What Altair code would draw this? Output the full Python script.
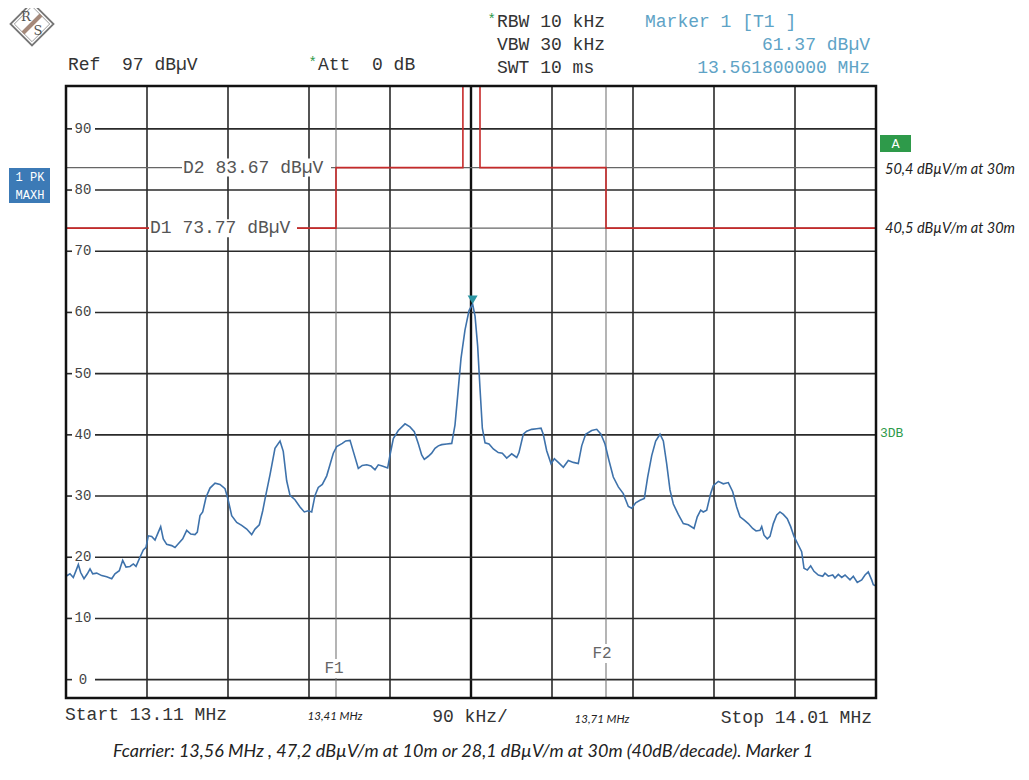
import altair as alt
import pandas as pd

# ---------------- data ----------------
freq_mhz = [
    13.1100, 13.1144, 13.1181, 13.1219, 13.1237, 13.1263, 13.1300, 13.1337, 13.1367, 13.1397,
    13.1441, 13.1497, 13.1552, 13.1608, 13.1644, 13.1692, 13.1730, 13.1767, 13.1811, 13.1848,
    13.1878, 13.1922, 13.1959, 13.1989, 13.2014, 13.2052, 13.2089, 13.2126, 13.2152, 13.2181,
    13.2219, 13.2274, 13.2311, 13.2348, 13.2397, 13.2441, 13.2486, 13.2533, 13.2559, 13.2589,
    13.2619, 13.2656, 13.2700, 13.2756, 13.2811, 13.2867, 13.2903, 13.2941, 13.2997, 13.3052,
    13.3108, 13.3163, 13.3200, 13.3248, 13.3286, 13.3311, 13.3367, 13.3422, 13.3478, 13.3514,
    13.3552, 13.3589, 13.3644, 13.3700, 13.3748, 13.3792, 13.3830, 13.3867, 13.3903, 13.3948,
    13.3997, 13.4033, 13.4070, 13.4108, 13.4170, 13.4208, 13.4256, 13.4292, 13.4348, 13.4392,
    13.4441, 13.4489, 13.4533, 13.4570, 13.4614, 13.4674, 13.4700, 13.4737, 13.4792, 13.4867,
    13.4922, 13.4970, 13.5014, 13.5052, 13.5081, 13.5126, 13.5163, 13.5200, 13.5237, 13.5274,
    13.5330, 13.5386, 13.5422, 13.5452, 13.5489, 13.5533, 13.5578, 13.5618, 13.5645, 13.5674,
    13.5700, 13.5726, 13.5756, 13.5800, 13.5848, 13.5903, 13.5948, 13.5997, 13.6052, 13.6108,
    13.6133, 13.6181, 13.6219, 13.6274, 13.6330, 13.6378, 13.6403, 13.6441, 13.6489, 13.6526,
    13.6570, 13.6626, 13.6681, 13.6737, 13.6792, 13.6830, 13.6874, 13.6941, 13.6997, 13.7044,
    13.7089, 13.7133, 13.7181, 13.7237, 13.7292, 13.7348, 13.7386, 13.7430, 13.7478, 13.7526,
    13.7563, 13.7608, 13.7652, 13.7700, 13.7737, 13.7774, 13.7811, 13.7848, 13.7903, 13.7959,
    13.8014, 13.8078, 13.8114, 13.8152, 13.8181, 13.8219, 13.8263, 13.8292, 13.8348, 13.8403,
    13.8459, 13.8508, 13.8552, 13.8589, 13.8633, 13.8681, 13.8730, 13.8767, 13.8811, 13.8830,
    13.8856, 13.8892, 13.8922, 13.8959, 13.8997, 13.9033, 13.9070, 13.9114, 13.9152, 13.9189,
    13.9237, 13.9274, 13.9300, 13.9337, 13.9374, 13.9411, 13.9459, 13.9508, 13.9533, 13.9570,
    13.9619, 13.9644, 13.9681, 13.9719, 13.9756, 13.9811, 13.9848, 13.9892, 13.9941, 13.9978,
    14.0014, 14.0052, 14.0070, 14.0100,
]
level_dbuv = [
    16.9, 17.3, 16.7, 18.1, 18.8, 17.5, 16.5, 17.3, 18.1, 17.3,
    17.4, 17.0, 16.8, 16.5, 17.3, 17.8, 19.5, 18.4, 18.5, 18.9,
    18.5, 20.0, 21.2, 21.6, 23.5, 23.4, 22.8, 24.1, 25.0, 23.0,
    22.1, 21.9, 21.6, 22.2, 23.0, 24.4, 23.8, 23.7, 24.1, 26.8,
    27.4, 29.8, 31.3, 32.1, 31.9, 31.2, 29.3, 26.8, 25.7, 25.2,
    24.6, 23.7, 24.6, 25.3, 27.6, 29.5, 33.5, 37.8, 39.0, 37.3,
    32.5, 30.1, 29.4, 28.2, 27.4, 27.6, 27.4, 30.1, 31.4, 31.9,
    33.3, 35.1, 37.0, 38.1, 38.6, 39.0, 39.1, 37.3, 34.5, 35.0,
    35.1, 34.9, 34.3, 35.1, 34.9, 34.6, 36.7, 39.4, 40.7, 41.8,
    41.3, 40.5, 38.6, 36.7, 36.0, 36.5, 37.0, 37.8, 38.2, 38.4,
    38.5, 38.6, 41.6, 46.4, 52.5, 57.1, 60.3, 61.37, 59.4, 54.5,
    47.6, 41.1, 38.7, 38.5, 37.7, 37.1, 37.0, 36.2, 36.9, 36.3,
    37.1, 40.1, 40.6, 40.9, 41.0, 41.1, 40.1, 37.4, 35.3, 36.1,
    35.5, 34.7, 35.8, 35.5, 35.3, 38.2, 40.1, 40.7, 40.9, 40.1,
    38.5, 35.8, 33.1, 31.5, 30.4, 28.3, 28.0, 28.9, 29.3, 29.6,
    33.1, 36.6, 39.0, 40.1, 39.0, 35.3, 31.0, 28.7, 27.0, 25.5,
    25.3, 24.7, 26.6, 27.7, 27.4, 27.7, 30.4, 31.7, 32.4, 32.0,
    32.2, 30.7, 28.2, 26.6, 26.1, 25.5, 24.7, 24.3, 24.4, 25.0,
    23.6, 23.0, 23.4, 25.5, 26.9, 27.4, 27.0, 26.3, 25.0, 23.4,
    22.0, 20.9, 18.2, 17.9, 18.6, 17.7, 17.1, 16.9, 17.4, 16.9,
    17.1, 16.6, 17.2, 16.7, 17.1, 16.3, 16.9, 15.9, 16.3, 17.1,
    17.6, 16.3, 15.5, 15.3,
]

limit_freq_mhz = [13.11, 13.41, 13.41, 13.551, 13.551, 13.570, 13.570, 13.71, 13.71, 14.01]
limit_level_dbuv = [73.77, 73.77, 83.67, 83.67, 100.0, 100.0, 83.67, 83.67, 73.77, 73.77]

display_names = ["D1", "D2"]
display_levels = [73.77, 83.67]

grid_levels = [0, 10, 20, 30, 40, 50, 60, 70, 80, 90]
grid_labels = ["0", "10", "20", "30", "40", "50", "60", "70", "80", "90"]
grid_freqs = [13.20, 13.29, 13.38, 13.47, 13.65, 13.74, 13.83, 13.92]
center_freq = [13.56]

f_names = ["F1", "F2"]
f_freqs = [13.41, 13.71]

marker_freq = [13.5618]
marker_level = [61.37]

# ---------------- layout ----------------
W, H = 810, 612
X_DOM = [13.11, 14.01]
Y_DOM = [-3, 97]
xs = alt.Scale(domain=X_DOM, nice=False, zero=False)
ys = alt.Scale(domain=Y_DOM, nice=False, zero=False)


def ypx(v):
    return (Y_DOM[1] - v) / (Y_DOM[1] - Y_DOM[0]) * H


MONO = "Liberation Mono"
HAND = "Lato"
NB = "\u00a0"
one = pd.DataFrame({"k": [0]})


def txt(text, x, y, size=18, color="#333", font=MONO, align="left", style="normal", weight="normal"):
    return alt.Chart(one).mark_text(
        text=text.replace("  ", NB + NB), font=font, fontSize=size, color=color, align=align,
        baseline="middle", fontStyle=style, fontWeight=weight,
    ).encode(x=alt.value(x), y=alt.value(y))


def box(x1, x2, y1, y2, fill="white", stroke=None, sw=0):
    kw = dict(fill=fill)
    if stroke:
        kw.update(stroke=stroke, strokeWidth=sw)
    return alt.Chart(one).mark_rect(**kw).encode(
        x=alt.value(x1), x2=alt.value(x2), y=alt.value(y1), y2=alt.value(y2))


trace_df = pd.DataFrame({"f": freq_mhz, "v": level_dbuv})
limit_df = pd.DataFrame({"f": limit_freq_mhz, "v": limit_level_dbuv, "o": list(range(len(limit_freq_mhz)))})
grid_h_df = pd.DataFrame({"v": grid_levels, "lab": grid_labels})
grid_v_df = pd.DataFrame({"f": grid_freqs})
center_df = pd.DataFrame({"f": center_freq})
disp_df = pd.DataFrame({"name": display_names, "v": display_levels})
f_df = pd.DataFrame({"name": f_names, "f": f_freqs})
mk_df = pd.DataFrame({"f": marker_freq, "v": marker_level})

GRID = "#2a2a2a"

layers = []

# vertical grid
layers.append(alt.Chart(grid_v_df).mark_rule(color=GRID, strokeWidth=1.6).encode(
    x=alt.X("f:Q", scale=xs, axis=None), y=alt.value(0), y2=alt.value(H)))
layers.append(alt.Chart(center_df).mark_rule(color="#111", strokeWidth=2.4).encode(
    x=alt.X("f:Q", scale=xs, axis=None), y=alt.value(0), y2=alt.value(H)))
# horizontal grid (interrupted by the labels)
layers.append(alt.Chart(grid_h_df).mark_rule(color=GRID, strokeWidth=1.6).encode(
    y=alt.Y("v:Q", scale=ys, axis=None), x=alt.value(29), x2=alt.value(W)))
layers.append(alt.Chart(grid_h_df).mark_rule(color=GRID, strokeWidth=1.6).encode(
    y=alt.Y("v:Q", scale=ys, axis=None), x=alt.value(0), x2=alt.value(6)))
layers.append(alt.Chart(grid_h_df).mark_text(font=MONO, fontSize=14, color="#444", align="center", baseline="middle").encode(
    y=alt.Y("v:Q", scale=ys, axis=None), x=alt.value(17), text="lab:N"))

# display lines D1 / D2
layers.append(alt.Chart(disp_df).mark_rule(color="#666", strokeWidth=1.2).encode(
    y=alt.Y("v:Q", scale=ys, axis=None), x=alt.value(0), x2=alt.value(W)))
# frequency lines F1 / F2
layers.append(alt.Chart(f_df).mark_rule(color="#777", strokeWidth=1.1).encode(
    x=alt.X("f:Q", scale=xs, axis=None), y=alt.value(0), y2=alt.value(H)))

# red limit line
layers.append(alt.Chart(limit_df).mark_line(color="#c62a2a", strokeWidth=1.6, clip=True, interpolate="linear").encode(
    x=alt.X("f:Q", scale=xs, axis=None), y=alt.Y("v:Q", scale=ys, axis=None), order="o:Q"))

# labels of display lines / F lines with white backing
layers.append(box(83, 231, ypx(73.77) - 9, ypx(73.77) + 9))
layers.append(box(116, 265, ypx(83.67) - 9, ypx(83.67) + 9))
layers.append(txt("D1 73.77 dBµV", 84, ypx(73.77), size=18, color="#555"))
layers.append(txt("D2 83.67 dBµV", 117, ypx(83.67), size=18, color="#555"))
layers.append(box(258, 279, 573, 592))
layers.append(box(526, 547, 558, 577))
layers.append(txt("F1", 268, 582, size=16, color="#666", align="center"))
layers.append(txt("F2", 536, 567, size=16, color="#666", align="center"))

# measured trace
layers.append(alt.Chart(trace_df).mark_line(color="#3e72ab", strokeWidth=1.6).encode(
    x=alt.X("f:Q", scale=xs, axis=None), y=alt.Y("v:Q", scale=ys, axis=None)))

# marker
layers.append(alt.Chart(mk_df).mark_point(shape="M-1,-1.7L1,-1.7L0,0Z", filled=True, size=100,
                                          color="#2b95a3", opacity=1).encode(
    x=alt.X("f:Q", scale=xs, axis=None), y=alt.Y("v:Q", scale=ys, axis=None)))

# frame
layers.append(box(0, W, 0, H, fill="transparent", stroke="#111", sw=2.5))

# header texts
layers.append(txt("Ref  97 dBµV", 2, -21))
layers.append(txt("*", 251, -23, size=14, color="#2e9a4a", align="right"))
layers.append(txt("Att  0 dB", 252, -21))
layers.append(txt("*", 430, -66, size=14, color="#2e9a4a", align="right"))
layers.append(txt("RBW 10 kHz", 431, -64))
layers.append(txt("VBW 30 kHz", 431, -41))
layers.append(txt("SWT 10 ms", 431, -18))
MK = "#5ea3c6"
layers.append(txt("Marker 1 [T1 ]", 579, -64, color=MK))
layers.append(txt("61.37 dBµV", 804, -41, color=MK, align="right"))
layers.append(txt("13.561800000 MHz", 804, -18, color=MK, align="right"))

# R&S logo
layers.append(alt.Chart(one).mark_point(shape="M0,-1L1,0L0,1L-1,0Z", size=1850, color="#777",
                                        strokeWidth=1.8, filled=False, opacity=1).encode(
    x=alt.value(-34), y=alt.value(-62)))
layers.append(alt.Chart(one).mark_point(shape="M0,-1L1,0L0,1L-1,0Z", size=1250, color="#999",
                                        strokeWidth=1, filled=False, opacity=1).encode(
    x=alt.value(-34), y=alt.value(-62)))
layers.append(alt.Chart(one).mark_rule(color="#a5897a", strokeWidth=4).encode(
    x=alt.value(-43), x2=alt.value(-25), y=alt.value(-53), y2=alt.value(-71)))
layers.append(txt("R", -40, -69, size=13, color="#555", align="center", font="DejaVu Serif"))
layers.append(txt("S", -28, -55, size=13, color="#555", align="center", font="DejaVu Serif"))

# left trace-status box
layers.append(box(-57, -16, 82, 117, fill="#3c7ab6"))
layers.append(txt("1 PK", -36, 91, size=12, color="white", align="center"))
layers.append(txt("MAXH", -36, 109, size=12, color="white", align="center"))

# right side
layers.append(box(814, 845, 49, 66, fill="#2e9a4a"))
layers.append(txt("A", 829.5, 58, size=12, color="white", align="center", font="DejaVu Sans"))
layers.append(txt("50,4 dBµV/m at 30m", 819, 84, size=14.5, color="#222", font=HAND, style="italic"))
layers.append(txt("40,5 dBµV/m at 30m", 819, 143, size=14.5, color="#222", font=HAND, style="italic"))
layers.append(txt("3DB", 814, 347, size=13, color="#2e9a4a"))

# bottom texts
layers.append(txt("Start 13.11 MHz", -1, 629))
layers.append(txt("90 kHz/", 404, 631, align="center"))
layers.append(txt("Stop 14.01 MHz", 806, 632, align="right"))
layers.append(txt("13,41 MHz", 269, 631, size=11.5, color="#222", font=HAND, style="italic", align="center"))
layers.append(txt("13,71 MHz", 536, 634, size=11.5, color="#222", font=HAND, style="italic", align="center"))
layers.append(txt("Fcarrier: 13,56 MHz , 47,2 dBµV/m at 10m or 28,1 dBµV/m at 30m (40dB/decade). Marker 1",
                  47, 666, size=18, color="#222", font=HAND, style="italic"))

chart = alt.layer(*layers).properties(
    width=W, height=H,
    padding={"left": 58, "top": 78, "right": 145, "bottom": 74},
    autosize=alt.AutoSizeParams(type="none"),
    background="white",
).configure_view(stroke=None)

chart.save("out.html", embed_options={"renderer": "svg", "actions": False})
